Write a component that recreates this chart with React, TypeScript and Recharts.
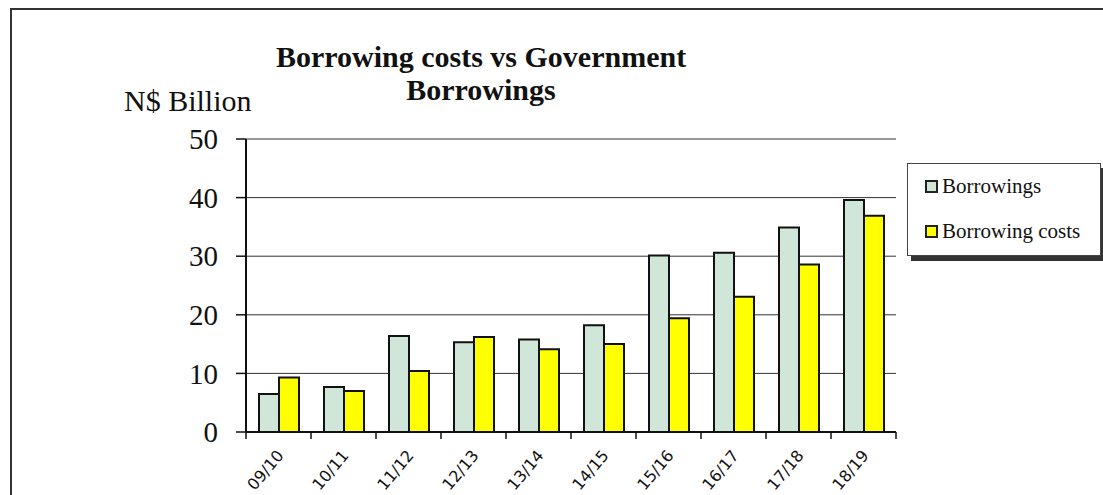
import { BarChart, Bar, XAxis, YAxis, CartesianGrid, Legend } from 'recharts'

const YEARS = ['09/10', '10/11', '11/12', '12/13', '13/14', '14/15', '15/16', '16/17', '17/18', '18/19']
const BORROWINGS = [6.5, 7.7, 16.4, 15.3, 15.8, 18.2, 30.1, 30.6, 34.9, 39.6]
const BORROWING_COSTS = [9.3, 7.0, 10.4, 16.2, 14.1, 15.0, 19.4, 23.1, 28.6, 36.9]
const Y_TICKS = [0, 10, 20, 30, 40, 50]
const SERIES_ORDER = ['Borrowings', 'Borrowing costs']

const SERIF = '"Liberation Serif", "Times New Roman", serif'

const data = YEARS.map((year, i) => ({
  year,
  borrowings: BORROWINGS[i],
  costs: BORROWING_COSTS[i],
}))

// label plus the tick marks that sit between the categories
function YearTick({ x, y, payload, index, visibleTicksCount }: any) {
  const half = payload.offset || 0
  const last = index === visibleTicksCount - 1
  return (
    <g>
      <line x1={x - half} y1={y} x2={x - half} y2={y + 7} stroke="#111" strokeWidth={1.5} />
      {last && <line x1={x + half} y1={y} x2={x + half} y2={y + 7} stroke="#111" strokeWidth={1.5} />}
      <text
        x={x + 6}
        y={y + 24}
        textAnchor="end"
        transform={`rotate(-50, ${x + 6}, ${y + 24})`}
        fontFamily='"DejaVu Sans", Verdana, sans-serif'
        fontSize={16}
        fill="#111"
      >
        {payload.value}
      </text>
    </g>
  )
}

function LegendBox({ payload }: any) {
  const items = [...(payload || [])].sort(
    (a: any, b: any) => SERIES_ORDER.indexOf(a.value) - SERIES_ORDER.indexOf(b.value),
  )
  return (
    <div
      style={{
        width: 194,
        height: 93,
        boxSizing: 'border-box',
        border: '1px solid #444',
        background: '#fff',
        boxShadow: '4px 5px 0 #333',
        fontFamily: SERIF,
        fontSize: 21,
        color: '#111',
      }}
    >
      {items.map((p: any) => (
        <div key={p.value} style={{ height: 45, lineHeight: '45px', paddingLeft: 17, whiteSpace: 'nowrap' }}>
          <span
            style={{
              display: 'inline-block',
              width: 9,
              height: 9,
              border: '2px solid #222',
              background: p.color,
              marginRight: 4,
            }}
          />
          {p.value}
        </div>
      ))}
    </div>
  )
}

export default function App() {
  return (
    <div style={{ position: 'absolute', left: 0, top: 0, width: 1103, height: 495, background: '#fff', overflow: 'hidden' }}>
      <div
        style={{
          position: 'absolute',
          left: 10,
          top: 8,
          width: 1100,
          height: 500,
          borderLeft: '2px solid #333',
          borderTop: '2px solid #333',
        }}
      />
      <div
        style={{
          position: 'absolute',
          left: 231,
          top: 40,
          width: 500,
          textAlign: 'center',
          fontFamily: SERIF,
          fontWeight: 'bold',
          fontSize: 30,
          lineHeight: '33px',
          color: '#111',
        }}
      >
        Borrowing costs vs Government
        <br />
        Borrowings
      </div>
      <div
        style={{
          position: 'absolute',
          left: 124,
          top: 84,
          fontFamily: SERIF,
          fontSize: 30,
          lineHeight: '33px',
          color: '#111',
          whiteSpace: 'nowrap',
        }}
      >
        N$ Billion
      </div>
      <BarChart
        width={1103}
        height={495}
        data={data}
        margin={{ top: 139, right: 207, left: 166, bottom: 8 }}
        barCategoryGap="20%"
        barGap={0}
        style={{ position: 'absolute', left: 0, top: 0 }}
      >
        <CartesianGrid yAxisId="left" vertical={false} stroke="#333" />
        <XAxis
          dataKey="year"
          height={55}
          interval={0}
          tickLine={false}
          tickSize={0}
          tickMargin={0}
          axisLine={{ stroke: '#111', strokeWidth: 2 }}
          tick={<YearTick />}
        />
        <YAxis
          yAxisId="left"
          domain={[0, 50]}
          ticks={Y_TICKS}
          width={80}
          tickSize={10}
          tickMargin={18}
          tickLine={{ stroke: '#111', strokeWidth: 1.5 }}
          axisLine={{ stroke: '#111', strokeWidth: 2 }}
          tick={{ fontFamily: SERIF, fontSize: 29, fill: '#111' }}
        />
        <YAxis
          yAxisId="right"
          orientation="right"
          domain={[0, 50]}
          width={0}
          tick={false}
          tickLine={false}
          axisLine={{ stroke: '#666', strokeWidth: 1.5 }}
        />
        <Legend
          layout="horizontal"
          verticalAlign="middle"
          align="center"
          content={<LegendBox />}
          wrapperStyle={{ position: 'absolute', left: 907, top: 163, width: 194, height: 93 }}
        />
        <Bar
          yAxisId="left"
          dataKey="borrowings"
          name="Borrowings"
          fill="#d0e6d9"
          stroke="#111"
          strokeWidth={2}
          isAnimationActive={false}
        />
        <Bar
          yAxisId="left"
          dataKey="costs"
          name="Borrowing costs"
          fill="#ffff00"
          stroke="#111"
          strokeWidth={2}
          isAnimationActive={false}
        />
      </BarChart>
    </div>
  )
}
